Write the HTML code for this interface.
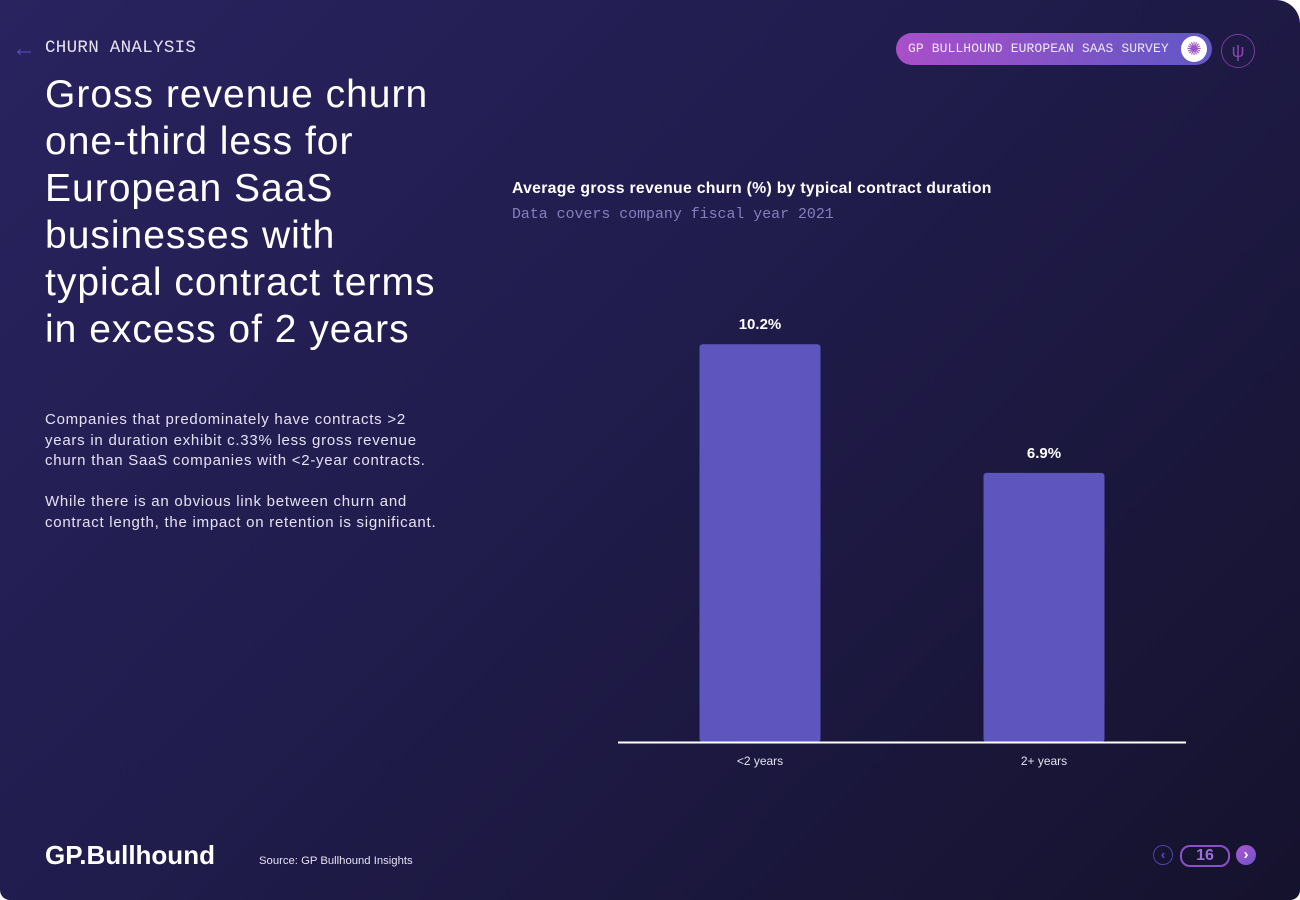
<!DOCTYPE html>
<html><head><meta charset="utf-8"><style>
body{margin:0;width:1300px;height:900px;overflow:hidden;background:#fff;font-family:"Liberation Sans",sans-serif;}
#page{position:absolute;left:0;top:0;width:1300px;height:900px;background:linear-gradient(135deg,#29235f 0%,#201c4c 45%,#15122d 100%);border-radius:0 24px 10px 10px;overflow:hidden;}
.mono{font-family:"Liberation Mono","DejaVu Sans Mono",monospace;}
.abs{position:absolute;white-space:nowrap;}
</style></head><body>
<div id="page">
<div class="abs" style="left:12px;top:35px;color:#5a4fc0;font-size:24px;font-weight:bold;">&#8592;</div>
<div class="abs mono" style="left:45px;top:38px;color:#e6e4f5;font-size:17.5px;letter-spacing:0.3px;">CHURN ANALYSIS</div>
<div class="abs" style="left:896px;top:33px;width:316px;height:32px;border-radius:16px;background:linear-gradient(90deg,#a94fc9,#5f58c4);">
 <div class="abs mono" style="left:12px;top:8px;color:#f0e8fa;font-size:13px;letter-spacing:0.1px;">GP BULLHOUND EUROPEAN SAAS SURVEY</div>
 <div class="abs" style="left:285px;top:3px;width:26px;height:26px;border-radius:13px;background:#fff;color:#9a55c8;font-size:18px;text-align:center;line-height:26px;">&#10042;</div>
</div>
<div class="abs" style="left:1221px;top:34px;width:32px;height:32px;border-radius:17px;border:1px solid #7a3a9a;color:#8a45b0;text-align:center;line-height:32px;font-size:18px;">&#968;</div>
<div class="abs" style="left:45px;top:71px;color:#fff;font-size:39px;line-height:47px;letter-spacing:1px;">Gross revenue churn<br>one-third less for<br>European SaaS<br>businesses with<br>typical contract terms<br>in excess of 2 years</div>
<div class="abs" style="left:45px;top:410px;color:#e4e2f2;font-size:15px;line-height:20.5px;letter-spacing:0.75px;">Companies that predominately have contracts &gt;2<br>years in duration exhibit c.33% less gross revenue<br>churn than SaaS companies with &lt;2-year contracts.<br><br>While there is an obvious link between churn and<br>contract length, the impact on retention is significant.</div>
<div class="abs" style="left:512px;top:180px;color:#fff;font-size:15.8px;font-weight:bold;letter-spacing:0.28px;">Average gross revenue churn (%) by typical contract duration</div>
<div class="abs mono" style="left:512px;top:207px;color:#8580bd;font-size:14.9px;">Data covers company fiscal year 2021</div>
<svg id="chart" class="abs" style="left:0;top:0" width="1300" height="900"></svg>
<div class="abs" style="left:45px;top:840px;color:#fff;font-size:26px;font-weight:bold;letter-spacing:0px;">GP.Bullhound</div>
<div class="abs" style="left:259px;top:855px;color:#e4e2f2;font-size:11.3px;">Source: GP Bullhound Insights</div>
<div class="abs" style="left:1153px;top:845px;width:18px;height:18px;border-radius:10px;border:1px solid #4c44a8;color:#5c52c0;font-size:13px;text-align:center;line-height:18px;font-weight:bold;">&#8249;</div>
<div class="abs" style="left:1180px;top:845px;width:46px;height:18px;border-radius:10px;border:2px solid #8a50c8;color:#9a70d8;font-size:16px;text-align:center;line-height:18px;font-weight:bold;">16</div>
<div class="abs" style="left:1236px;top:845px;width:20px;height:20px;border-radius:10px;background:linear-gradient(135deg,#b055d0,#6a55c8);color:#fff;font-size:15px;text-align:center;line-height:19px;font-weight:bold;">&#8250;</div>
</div>
<script>
const categories=["<2 years","2+ years"];
const values=[10.2,6.9];
const valueLabels=["10.2%","6.9%"];
const svg=document.getElementById('chart');
const NS="http://www.w3.org/2000/svg";
const baseY=742, pxPerUnit=39.0, x0=618, x1=1186, bw=121;
function yScale(v){return baseY-v*pxPerUnit;}
function xCenter(i){return x0+(x1-x0)*(i+0.5)/categories.length;}
categories.forEach((c,i)=>{
 const cx=xCenter(i);
 const r=document.createElementNS(NS,'rect');
 
 
 r.setAttribute('x',cx-bw/2);r.setAttribute('y',yScale(values[i]));
 r.setAttribute('width',bw);r.setAttribute('height',baseY-yScale(values[i]));
 r.setAttribute('rx',3);r.setAttribute('fill','#5e55bf');svg.appendChild(r);
 const t=document.createElementNS(NS,'text');
 
 
 t.setAttribute('x',cx);t.setAttribute('y',yScale(values[i])-15);t.setAttribute('text-anchor','middle');
 t.setAttribute('fill','#fff');t.setAttribute('font-size','15');t.setAttribute('font-weight','bold');
 t.setAttribute('font-family','Liberation Sans, sans-serif');t.textContent=valueLabels[i];svg.appendChild(t);
 const l=document.createElementNS(NS,'text');
 
 
 l.setAttribute('x',cx);l.setAttribute('y',765);l.setAttribute('text-anchor','middle');
 l.setAttribute('fill','#e4e2f2');l.setAttribute('font-size','12');
 l.setAttribute('font-family','Liberation Sans, sans-serif');l.textContent=c;svg.appendChild(l);
});
const ax=document.createElementNS(NS,'line');


ax.setAttribute('x1',x0);ax.setAttribute('x2',x1);ax.setAttribute('y1',baseY+0.5);ax.setAttribute('y2',baseY+0.5);
ax.setAttribute('stroke','#fff');ax.setAttribute('stroke-width','2');svg.appendChild(ax);
</script>
</body></html>
